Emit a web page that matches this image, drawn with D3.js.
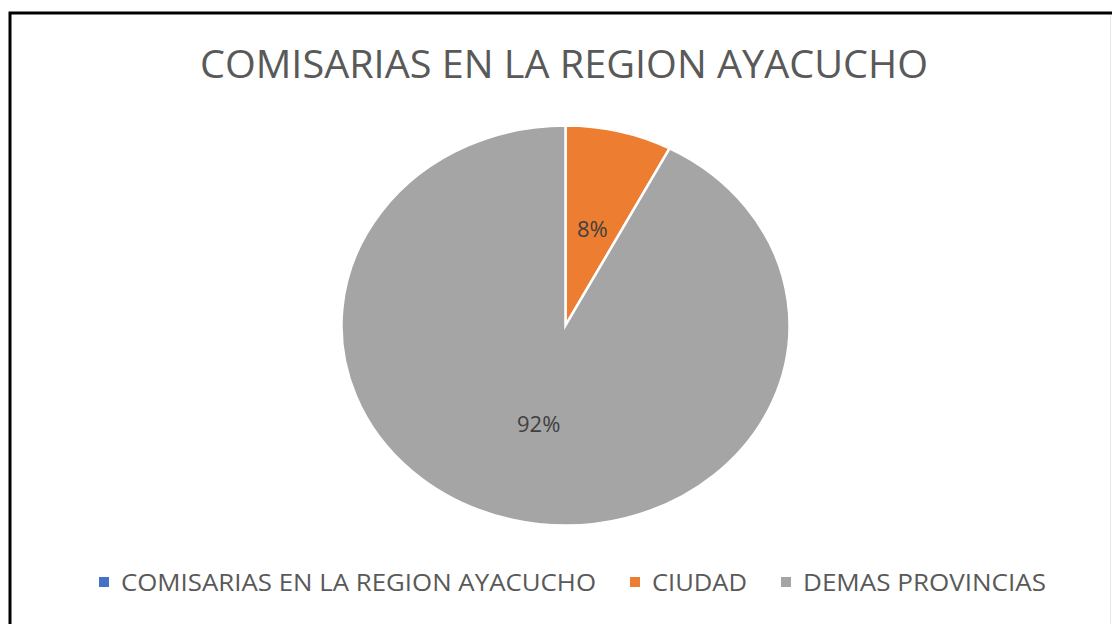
<!DOCTYPE html>
<html>
<head>
<meta charset="utf-8">
<script src="https://cdn.jsdelivr.net/npm/d3@7"></script>
<style>
  body { margin: 0; background: #fff; }
  text { font-family: "Open Sans", sans-serif; }
</style>
</head>
<body>
<svg id="svg" width="1112" height="624"></svg>
<script>
const title = 'COMISARIAS EN LA REGION AYACUCHO';
const categories = ['COMISARIAS EN LA REGION AYACUCHO', 'CIUDAD', 'DEMAS PROVINCIAS'];
const values = [0, 1, 12];
const colors = ['#4472C4', '#ED7D31', '#A5A5A5'];

const svg = d3.select('svg');
const width = 1112;
const height = 624;

// chart border (left + top only are visible in the picture)
svg.append('path')
  .attr('d', `M10,${height} L10,13 L${width},13`)
  .attr('fill', 'none')
  .attr('stroke', '#000')
  .attr('stroke-width', 3);
svg.append('line')
  .attr('x1', 1110.5).attr('x2', 1110.5).attr('y1', 15).attr('y2', height)
  .attr('stroke', '#e6e6e6');

svg.append('text')
  .attr('x', 564)
  .attr('y', 78)
  .attr('text-anchor', 'middle')
  .attr('font-size', 39)
  .attr('fill', '#595959')
  .attr('textLength', 728)
  .attr('lengthAdjust', 'spacingAndGlyphs')
  .text(title);

// pie (picture is stretched a bit horizontally)
const cx = 565.5, cy = 325.5, r = 200, sx = 1.12;
const total = d3.sum(values);
const data = categories.map((c, i) => ({ name: c, value: values[i], color: colors[i] }));

const pie = d3.pie().sort(null).value((d) => d.value);
const arc = d3.arc().innerRadius(0).outerRadius(r);
const arcs = pie(data);

const g = svg.append('g').attr('transform', `translate(${cx},${cy}) scale(${sx},1)`);
g.selectAll('path')
  .data(arcs.filter((d) => d.data.value > 0))
  .enter()
  .append('path')
  .attr('d', arc)
  .attr('fill', (d) => d.data.color)
  .attr('stroke', '#fff')
  .attr('stroke-width', 2.5)
  .attr('vector-effect', 'non-scaling-stroke');

const fmt = d3.format('.0%');
svg.selectAll('text.lbl')
  .data(arcs.filter((d) => d.data.value > 0))
  .enter()
  .append('text')
  .attr('class', 'lbl')
  .attr('x', (d) => cx + arc.centroid(d)[0] * sx)
  .attr('y', (d) => cy + arc.centroid(d)[1])
  .attr('text-anchor', 'middle')
  .attr('dominant-baseline', 'central')
  .attr('font-size', 22)
  .attr('fill', '#404040')
  .text((d) => fmt(d.data.value / total));

// legend
const legendY = 582;
const fontSize = 23;
const textWidths = [475, 95, 243];
const marker = 10, gapMarker = 12, gapItem = 34;
const totalW = d3.sum(textWidths) + categories.length * (marker + gapMarker) + gapItem * (categories.length - 1);
let x = 572.5 - totalW / 2;
const legend = svg.append('g');
data.forEach((d, i) => {
  legend.append('rect')
    .attr('x', x).attr('y', legendY - marker / 2)
    .attr('width', marker).attr('height', marker)
    .attr('fill', d.color);
  legend.append('text')
    .attr('x', x + marker + gapMarker)
    .attr('y', legendY)
    .attr('dominant-baseline', 'central')
    .attr('font-size', fontSize)
    .attr('fill', '#595959')
    .attr('textLength', textWidths[i])
    .attr('lengthAdjust', 'spacingAndGlyphs')
    .text(d.name);
  x += marker + gapMarker + textWidths[i] + gapItem;
});
</script>
</body>
</html>
